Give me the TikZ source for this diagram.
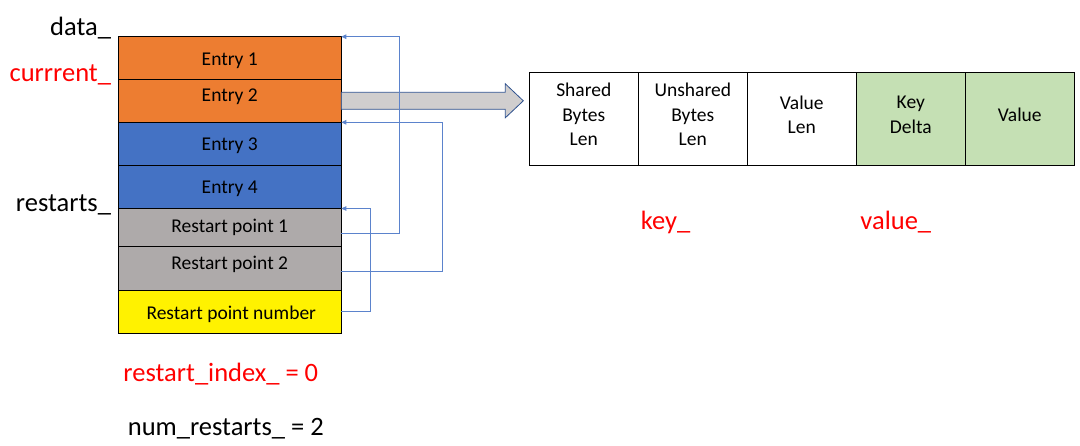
\documentclass[tikz,border=0pt]{standalone}
\usepackage{fontspec}
\setmainfont{Carlito}
\usetikzlibrary{positioning, arrows.meta}
\definecolor{entryorange}{RGB}{237,125,49}
\definecolor{entryblue}{RGB}{68,114,196}
\definecolor{restartgray}{RGB}{174,170,170}
\definecolor{keygreen}{RGB}{197,224,180}
\definecolor{linkblue}{RGB}{91,131,204}
\definecolor{arrowgray}{RGB}{208,206,206}
\definecolor{arrowedge}{RGB}{47,82,143}

\begin{document}
\begin{tikzpicture}[x=1pt, y=-1pt,
  cell/.style={draw=black, line width=0.8pt, inner sep=0, outer sep=0, minimum width=223pt, font=\fontsize{19.5}{24.5}\selectfont},
  field/.style={draw=black, line width=0.8pt, inner sep=0, outer sep=0, minimum width=109pt, minimum height=92.6pt, align=center, text depth=9pt, font=\fontsize{19.5}{24.5}\selectfont},
  tag/.style={inner sep=0, outer sep=0, font=\fontsize{26.5}{30}\selectfont},
  link/.style={draw=linkblue, line width=0.7pt, -{Triangle[length=5pt,width=4.5pt]}}]
  \useasboundingbox (0,0) rectangle (1080,445);

  % data block
  \node [cell, fill=entryorange, minimum height=42.6pt, text height=18pt, text depth=4pt] (e1) at (229.8,58) {Entry 1};
  \node [cell, fill=entryorange, minimum height=43pt, text depth=12pt, below=0pt of e1] (e2) {Entry 2};
  \node [cell, fill=entryblue, minimum height=43pt, text height=17pt, text depth=4pt, below=0pt of e2] (e3) {Entry 3};
  \node [cell, fill=entryblue, minimum height=43.2pt, text height=17pt, text depth=4pt, below=0pt of e3] (e4) {Entry 4};
  \node [cell, fill=restartgray, minimum height=37.8pt, below=0pt of e4] (rp1) {Restart point 1};
  \node [cell, fill=restartgray, minimum height=44pt, text depth=12pt, below=0pt of rp1] (rp2) {Restart point 2};
  \node [cell, fill=yellow, minimum height=43pt, text height=19pt, text depth=4pt, below=0pt of rp2] (rpn) {\hspace{3pt}Restart point number};

  \node [tag, anchor=base east] (datalbl) at (111,35) {data\_};
  \node [tag, anchor=base east, text=red] (curlbl) at (111,81.7) {currrent\_};
  \node [tag, anchor=base east] (restartslbl) at (111,211.7) {restarts\_};
  \node [tag, anchor=base, text=red] (idxlbl) at (220.8,381.7) {restart\_index\_ = 0};
  \node [tag, anchor=base] (numlbl) at (225.8,435) {num\_restarts\_ = 2};

  % entry layout
  \node [field] (f1) at (583.8,119) {Shared\\Bytes\\Len};
  \node [field, right=0pt of f1] (f2) {Unshared\\Bytes\\Len};
  \node [field, right=0pt of f2] (f3) {Value\\Len};
  \node [field, fill=keygreen, right=0pt of f3] (f4) {Key\\Delta};
  \node [field, fill=keygreen, right=0pt of f4] (f5) {Value};

  \node [tag, anchor=base, text=red] (keylbl) at (665.5,229.3) {key\_};
  \node [tag, anchor=base, text=red] (valuelbl) at (895.8,229.3) {value\_};

  \draw [draw=arrowedge, fill=arrowgray, line width=0.8pt] ([yshift=8.5pt]e2.east) -- ++(164,0) -- ++(0,-8.5)
    -- ++(18,17) -- ++(-18,17) -- ++(0,-8.5) -- ++(-164,0) -- cycle;

  % restart pointers
  \draw [link] ([yshift=-5.6pt]rp1.east) -- ++(58,0) |- (e1.north east);
  \draw [link] ([yshift=-2.7pt]rp2.east) -- ++(101,0) |- (e3.north east);
  \draw [link] (rpn.east) -- ++(29,0) |- (rp1.north east);
\end{tikzpicture}
\end{document}
